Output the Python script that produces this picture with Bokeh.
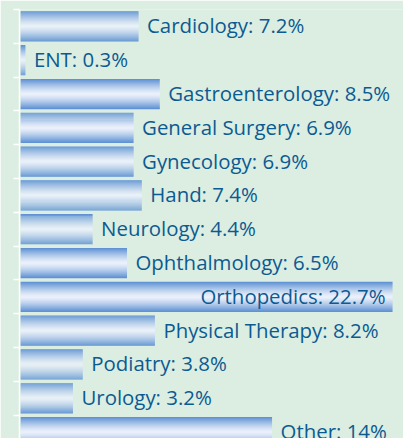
import numpy as np
from bokeh.plotting import figure
from bokeh.models import ColumnDataSource, Range1d, FixedTicker, LinearAxis
from bokeh.embed import file_html
from bokeh.resources import INLINE
from bokeh.core.properties import value

categories = ["Cardiology", "ENT", "Gastroenterology", "General Surgery", "Gynecology",
              "Hand", "Neurology", "Ophthalmology", "Orthopedics", "Physical Therapy",
              "Podiatry", "Urology", "Other"]
# bar lengths as drawn in the picture (the "Other" bar is drawn longer than its 14% label)
bar_values = [7.2, 0.3, 8.5, 6.9, 6.9, 7.4, 4.4, 6.5, 22.7, 8.2, 3.8, 3.2, 15.35]
value_labels = ["7.2%", "0.3%", "8.5%", "6.9%", "6.9%", "7.4%", "4.4%", "6.5%",
                "22.7%", "8.2%", "3.8%", "3.2%", "14%"]

BG = "#dbeee1"
TEXT = "#0c5a92"
DARK = np.array([90, 142, 210])
LIGHT = np.array([236, 241, 251])

W, H = 403, 438
p = figure(width=W, height=H, output_backend="svg", toolbar_location=None,
           x_range=Range1d(-0.06, 23.37), y_range=Range1d(12.19, -0.5),
           x_axis_location=None, y_axis_location=None,
           min_border_left=19, min_border_right=0, min_border_top=9, min_border_bottom=0,
           background_fill_color=BG, border_fill_color=BG, outline_line_color=None)
p.grid.visible = False

# gradient bars built from thin horizontal strips
n = 30
bar_h = 0.89
ys, rights, cols = [], [], []
for i, v in enumerate(bar_values):
    for k in range(n):
        off = -bar_h / 2 + (k + 0.5) * bar_h / n
        t = abs(off) / (bar_h / 2)
        c = LIGHT + (DARK - LIGHT) * (t ** 1.3)
        ys.append(i + off)
        rights.append(v)
        cols.append("#%02x%02x%02x" % tuple(int(round(x)) for x in c))
bars = ColumnDataSource(dict(y=ys, right=rights, color=cols))
p.hbar(y="y", left=0, right="right", height=bar_h / n * 1.15, source=bars,
       fill_color="color", line_color=None)

vmax = max(bar_values)
labels = [f"{c}: {l}" for c, l in zip(categories, value_labels)]
out_src = ColumnDataSource(dict(
    x=[v for v in bar_values if v < vmax],
    y=[i for i, v in enumerate(bar_values) if v < vmax],
    t=[lab for lab, v in zip(labels, bar_values) if v < vmax]))
in_src = ColumnDataSource(dict(
    x=[v for v in bar_values if v >= vmax],
    y=[i for i, v in enumerate(bar_values) if v >= vmax],
    t=[lab for lab, v in zip(labels, bar_values) if v >= vmax]))
p.text(x="x", y="y", text="t", source=out_src, text_font=value("Open Sans"),
       text_font_size="20.4px", text_color=TEXT, text_baseline="middle",
       text_align="left", x_offset=8.5, y_offset=-1)
p.text(x="x", y="y", text="t", source=in_src, text_font=value("Open Sans"),
       text_font_size="20.4px", text_color=TEXT, text_baseline="middle",
       text_align="right", x_offset=-7, y_offset=-1)

ticks = [i - 0.5 for i in range(len(categories) + 1)]
yaxis = LinearAxis(ticker=FixedTicker(ticks=ticks),
                   axis_line_color="white", axis_line_width=1.5,
                   major_tick_line_color="white", major_tick_line_width=1.5,
                   major_tick_out=6, major_tick_in=0,
                   minor_tick_line_color=None,
                   major_label_overrides={t: "" for t in ticks},
                   major_label_standoff=0)
p.add_layout(yaxis, "left")

html = file_html(p, INLINE)
open("out.html", "w").write(html)
